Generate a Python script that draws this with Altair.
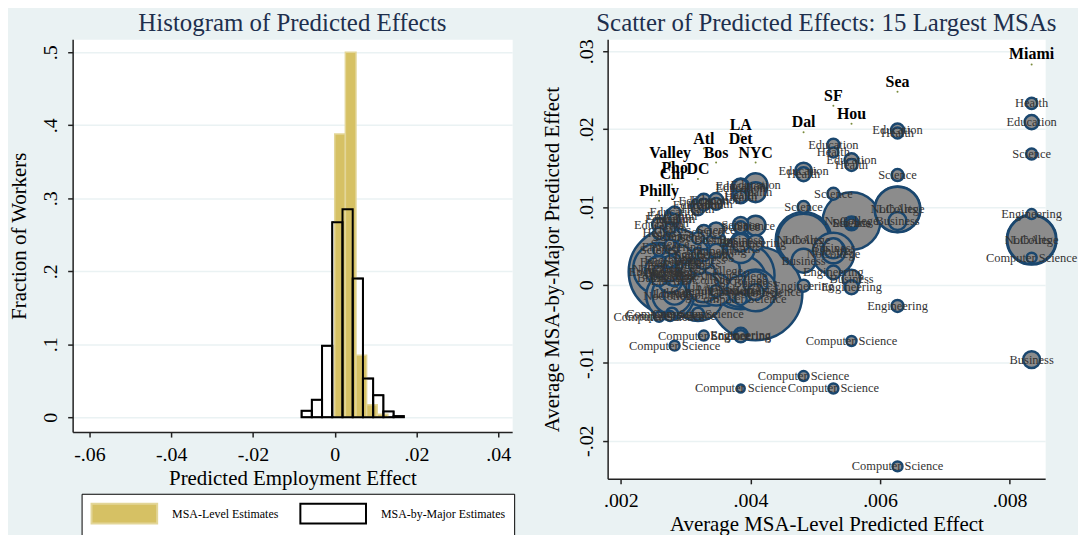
import altair as alt
import pandas as pd

# ---------------- Histogram data (fraction of workers) ----------------
msa_edges = [0.0000, 0.0026, 0.0052, 0.0078, 0.0104, 0.0130]
msa_frac = [0.388, 0.500, 0.085, 0.017, 0.004]
major_edges = [-0.0081, -0.0056, -0.0031, -0.0006, 0.0019, 0.0044, 0.0069, 0.0094, 0.0119, 0.0144, 0.0169]
major_frac = [0.009, 0.024, 0.098, 0.267, 0.285, 0.190, 0.053, 0.030, 0.008, 0.0015]

# ---------------- Scatter data: 15 largest MSAs ----------------
msa_names = ["NYC", "LA", "Chi", "Dal", "Hou", "DC", "Philly", "Miami",
             "Atl", "Bos", "SF", "Pho", "Valley", "Det", "Sea"]
msa_x = [0.00408, 0.00385, 0.00279, 0.00482, 0.00556, 0.00319, 0.00259, 0.00834,
         0.00328, 0.00347, 0.00528, 0.00283, 0.00276, 0.00385, 0.00627]
msa_label_y = [0.0157, 0.0192, 0.0129, 0.0196, 0.0207, 0.0136, 0.0108, 0.0283,
               0.0175, 0.0157, 0.0230, 0.0137, 0.0157, 0.0175, 0.0248]

majors = ["Education", "Health", "Science", "Business", "Engineering",
          "Computer Science", "NoCollege", "LibArts"]

# MSA-by-major predicted effects (same order as majors)
y_nyc = [0.0128, 0.0119, 0.0076, 0.0002, 0.0054, -0.0009, -0.0011, -0.0007]
y_la = [0.0125, 0.0115, 0.0077, 0.0057, -0.0066, -0.0133, 0.0012, 0.0046]
y_chi = [0.0089, 0.0079, 0.0061, 0.0011, 0.0048, -0.0037, 0.0017, -0.0012]
y_dal = [0.0146, 0.0142, 0.0100, 0.0031, -0.0001, -0.0117, 0.0058, 0.0058]
y_hou = [0.0160, 0.0154, 0.0079, 0.0008, -0.0003, -0.0072, 0.0082, 0.0079]
y_dc = [0.0102, 0.0097, 0.0060, 0.0025, 0.0040, -0.0037, -0.0013, 0.0012]
y_philly = [0.0077, 0.0066, 0.0045, 0.0009, 0.0017, -0.0041, 0.0021, 0.0019]
y_miami = [0.0209, 0.0233, 0.0168, -0.0096, 0.0091, 0.0035, 0.0058, 0.0058]
y_atl = [0.0108, 0.0103, 0.0068, 0.0032, 0.0038, -0.0065, 0.0006, -0.0003]
y_bos = [0.0109, 0.0104, 0.0070, 0.0058, 0.0044, -0.0008, 0.0018, -0.0006]
y_sf = [0.0180, 0.0170, 0.0117, 0.0047, 0.0016, -0.0133, 0.0040, 0.0043]
y_pho = [0.0093, 0.0085, 0.0063, 0.0009, 0.0032, -0.0078, 0.0025, -0.0010]
y_valley = [0.0085, 0.0072, 0.0052, 0.0015, 0.0030, -0.0040, -0.0014, 0.0005]
y_det = [0.0127, 0.0113, 0.0074, 0.0054, -0.0064, -0.0018, 0.0005, -0.0006]
y_sea = [0.0199, 0.0195, 0.0141, 0.0082, -0.0027, -0.0233, 0.0097, 0.0097]

# workers (thousands) in each MSA-by-major cell -> bubble area
w_nyc = [144, 100, 100, 144, 64, 64, 2209, 441]
w_la = [81, 64, 64, 81, 36, 16, 1156, 196]
w_chi = [49, 36, 49, 81, 49, 36, 1900, 400]
w_dal = [72, 49, 36, 144, 36, 25, 784, 676]
w_hou = [49, 36, 25, 81, 49, 25, 841, 49]
w_dc = [49, 36, 36, 81, 36, 36, 676, 324]
w_philly = [49, 36, 36, 64, 36, 25, 676, 196]
w_miami = [50, 32, 30, 72, 25, 25, 625, 600]
w_atl = [49, 36, 49, 81, 36, 25, 676, 225]
w_bos = [49, 36, 64, 81, 49, 36, 576, 256]
w_sf = [36, 25, 36, 100, 49, 25, 441, 144]
w_pho = [36, 25, 36, 64, 36, 25, 484, 144]
w_valley = [36, 25, 25, 64, 36, 25, 576, 144]
w_det = [49, 36, 36, 81, 49, 36, 676, 196]
w_sea = [42, 30, 36, 81, 36, 25, 529, 520]

y_all = [y_nyc, y_la, y_chi, y_dal, y_hou, y_dc, y_philly, y_miami,
         y_atl, y_bos, y_sf, y_pho, y_valley, y_det, y_sea]
w_all = [w_nyc, w_la, w_chi, w_dal, w_hou, w_dc, w_philly, w_miami,
         w_atl, w_bos, w_sf, w_pho, w_valley, w_det, w_sea]

# ---------------- Build tables ----------------
hist_rows = []
for i, f in enumerate(major_frac):
    hist_rows.append({"series": "MSA-by-Major Estimates", "x0": major_edges[i],
                      "x1": major_edges[i + 1], "frac": f})
for i, f in enumerate(msa_frac):
    hist_rows.append({"series": "MSA-Level Estimates", "x0": msa_edges[i],
                      "x1": msa_edges[i + 1], "frac": f})
hist = pd.DataFrame(hist_rows)
hist_major = hist[hist["series"] == "MSA-by-Major Estimates"]

rows = []
for m, xv, ys, ws in zip(msa_names, msa_x, y_all, w_all):
    for maj, yv, wv in zip(majors, ys, ws):
        rows.append({"msa": m, "major": maj, "x": xv, "y": yv, "w": wv})
cells = pd.DataFrame(rows)
msa_df = pd.DataFrame({"msa": msa_names, "x": msa_x, "y": msa_label_y})

FONT = "Liberation Serif"
BG = "#EAF2F3"
NAVY = "#1A476F"
TITLE_C = "#1E2F4D"
GOLD = "#D6C164"
GOLD_EDGE = "#E3D698"
W_MAX = max(max(w) for w in w_all)


def fmt(dec):
    return ("datum.value == 0 ? '0' : (datum.value < 0 ? '-' : '') + "
            "replace(format(abs(datum.value), '.%df'), '0.', '.')" % dec)


# ---------------- Left: histogram ----------------
hx = alt.X("x0:Q", scale=alt.Scale(domain=[-0.0641, 0.0434], nice=False, zero=False),
           axis=alt.Axis(values=[-0.06, -0.04, -0.02, 0, 0.02, 0.04], labelExpr=fmt(2),
                         title="Predicted Employment Effect", grid=False,
                         labelPadding=8, titlePadding=3))
hy = alt.Y("frac:Q", scale=alt.Scale(domain=[-0.0204, 0.5177], nice=False, zero=False),
           axis=alt.Axis(values=[0, 0.1, 0.2, 0.3, 0.4, 0.5], labelExpr=fmt(1),
                         title="Fraction of Workers", labelAngle=270, labelAlign="center",
                         labelBaseline="alphabetic", labelPadding=11, titlePadding=11))

series_dom = ["MSA-Level Estimates", "MSA-by-Major Estimates"]
legend = alt.Legend(orient="none", legendX=9, legendY=457, direction="horizontal",
                    columns=2, title=None,
                    symbolType="M-3.3,-1L3.3,-1L3.3,1L-3.3,1Z", symbolSize=400,
                    symbolOffset=23, symbolStrokeWidth=2, labelFont=FONT,
                    labelFontSize=12, labelColor="black", labelOffset=37,
                    columnPadding=18, padding=9, fillColor="white",
                    strokeColor="black")

bars = alt.Chart(hist).mark_rect(strokeWidth=1.5).encode(
    x=hx, x2="x1:Q", y=hy, y2=alt.datum(0),
    fill=alt.Fill("series:N", scale=alt.Scale(domain=series_dom, range=[GOLD, "white"]),
                  legend=legend),
    stroke=alt.Stroke("series:N", scale=alt.Scale(domain=series_dom, range=[GOLD_EDGE, "black"]),
                      legend=legend),
)
outlines = alt.Chart(hist_major).mark_rect(fillOpacity=0, stroke="black", strokeWidth=2).encode(
    x="x0:Q", x2="x1:Q", y="frac:Q", y2=alt.datum(0))

left = alt.layer(bars, outlines).properties(
    width=442, height=395,
    title=alt.Title("Histogram of Predicted Effects", font=FONT, fontSize=25,
                    fontWeight="normal", color=TITLE_C, anchor="middle", offset=-6, dy=-9))

# ---------------- Right: scatter ----------------
sx = alt.X("x:Q", scale=alt.Scale(domain=[0.001796, 0.008549], nice=False, zero=False),
           axis=alt.Axis(values=[0.002, 0.004, 0.006, 0.008], labelExpr=fmt(3),
                         title="Average MSA-Level Predicted Effect", grid=False,
                         labelPadding=7, titlePadding=3))
sy = alt.Y("y:Q", scale=alt.Scale(domain=[-0.0249, 0.03153], nice=False, zero=False),
           axis=alt.Axis(values=[0.03, 0.02, 0.01, 0, -0.01, -0.02], labelExpr=fmt(2),
                         title="Average MSA-by-Major Predicted Effect", labelAngle=270,
                         labelAlign="center", labelBaseline="alphabetic",
                         labelPadding=10, titlePadding=14))

# Vega circle: radius = sqrt(size)/2, so size = 4*w gives radius = sqrt(w)
bubbles = alt.Chart(cells).mark_circle(fill="#8C8C8C", fillOpacity=1, opacity=1,
                                       stroke=NAVY, strokeWidth=2.5).encode(
    x=sx, y=sy,
    size=alt.Size("w:Q", scale=alt.Scale(domain=[0, W_MAX], range=[0, 4 * W_MAX]), legend=None),
    order=alt.Order("w:Q", sort="descending"),
)
major_text = alt.Chart(cells).mark_text(font=FONT, fontSize=12.5, color="#333333",
                                        align="center", baseline="middle").encode(
    x="x:Q", y="y:Q", text="major:N")
msa_dots = alt.Chart(msa_df).mark_circle(size=4, color="#7A8B3C", opacity=1).encode(
    x="x:Q", y="y:Q")
msa_text = alt.Chart(msa_df).mark_text(font=FONT, fontSize=16, fontWeight="bold",
                                       color="black", align="center",
                                       baseline="alphabetic", dy=-5).encode(
    x="x:Q", y="y:Q", text="msa:N")

right = alt.layer(bubbles, major_text, msa_dots, msa_text).properties(
    width=440, height=442,
    title=alt.Title("Scatter of Predicted Effects: 15 Largest MSAs", font=FONT, fontSize=25,
                    fontWeight="normal", color=TITLE_C, anchor="middle", offset=-6, dy=-9))

chart = alt.hconcat(left, right, spacing=28).properties(
    background=BG, padding={"left": 0, "top": 0, "right": 0, "bottom": 0}
).configure_view(
    fill="white", stroke="transparent"
).configure_axis(
    labelFont=FONT, titleFont=FONT, labelFontSize=20, titleFontSize=21,
    labelColor="black", titleColor="black", titleFontWeight="normal",
    domainColor="#222222", domainWidth=1.5, tickColor="#222222", tickSize=5,
    tickWidth=1.5, gridColor=BG, gridWidth=1.5,
).configure_axisY(grid=True)

chart.save("out.html", embed_options={"renderer": "svg", "actions": False})
